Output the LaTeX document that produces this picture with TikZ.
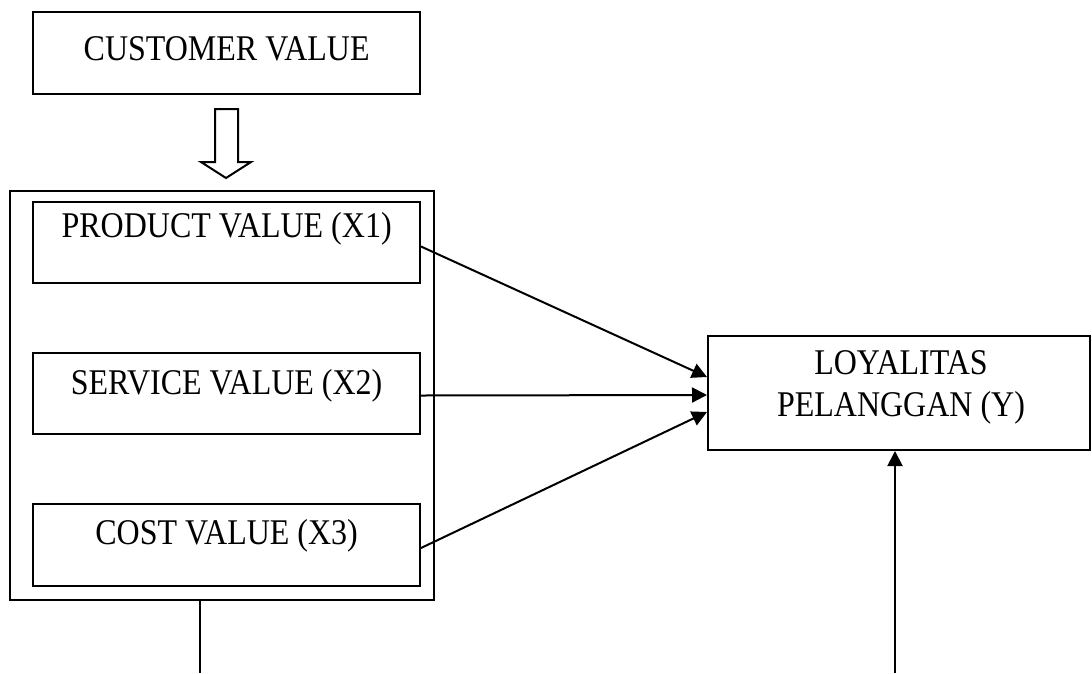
\documentclass[tikz,border=0pt]{standalone}
\usepackage{fontspec}
\usepackage{graphicx}
\setmainfont{Liberation Serif}
\usetikzlibrary{arrows.meta,calc}
\newcommand{\tallt}[1]{\scalebox{1}[1.13]{#1}}
\begin{document}
\begin{tikzpicture}[x=1pt,y=-1pt,
  lw/.style={line width=2pt},
  vbox/.style={draw,lw,anchor=north west,inner sep=0pt,minimum width=386.7pt,
    font=\fontsize{32}{38}\selectfont},
  conn/.style={lw,-{Triangle[length=15pt,width=15pt]}}]
\useasboundingbox (0,0) rectangle (1092,673);
% top box
\node[vbox,text height=49pt,text depth=33pt] (cv) at (32.3,10.7) {\tallt{CUSTOMER VALUE}};
% hollow arrow
\draw[lw,line join=miter] (215,109) -- (238,109) -- (238,162) -- (251,162) -- (226,178)
  -- (201,162) -- (215,162) -- cycle;
% outer box
\draw[lw] (10,191) rectangle (434,600);
\node[vbox,text height=35pt,text depth=46pt] (p) at (32.3,201) {\tallt{PRODUCT VALUE (X1)}};
\node[vbox,text height=41pt,text depth=40pt] (s) at (32.3,352) {\tallt{SERVICE VALUE (X2)}};
\node[vbox,text height=40pt,text depth=42pt] (c) at (32.3,503) {\tallt{COST VALUE (X3)}};
% Y box
\node[draw,lw,inner sep=0pt,minimum width=382pt,minimum height=114pt] (y) at (899,393) {};
\node[align=center,inner sep=0pt,font=\fontsize{32}{42}\selectfont] (yt) at (901,387) {\tallt{LOYALITAS}\\\tallt{PELANGGAN (Y)}};
% connectors
\draw[conn] ($(p.east)+(0,4)$) -- ($(y.west)+(0,-16)$);
\draw[conn] ($(s.east)+(0,2)$) -- ($(y.west)+(0,2)$);
\draw[conn] ($(c.east)+(0,3)$) -- ($(y.west)+(0,19)$);
\coordinate (b1) at (200,600);
\coordinate (b2) at (200,673);
\draw[lw] (b1) -- (b2);
\coordinate (u1) at (895,673);
\draw[conn] (u1) -- (u1 |- y.south);
\end{tikzpicture}
\end{document}
